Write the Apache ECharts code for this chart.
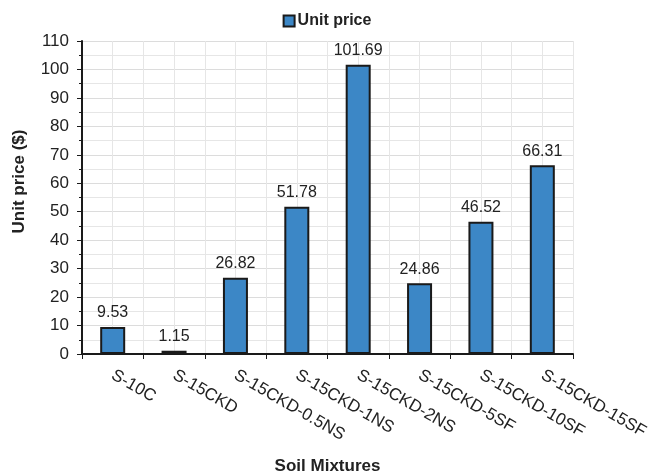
<!DOCTYPE html>
<html>
<head>
<meta charset="utf-8">
<script src="https://cdn.jsdelivr.net/npm/echarts@6/dist/echarts.min.js"></script>
<style>
  html, body { margin: 0; padding: 0; background: #fff; }
  #chart { width: 654px; height: 472px; }
</style>
</head>
<body>
<div id="chart"></div>
<script>
// Soil mixtures and their unit prices
const mixtures = ['S-10C', 'S-15CKD', 'S-15CKD-0.5NS', 'S-15CKD-1NS', 'S-15CKD-2NS', 'S-15CKD-5SF', 'S-15CKD-10SF', 'S-15CKD-15SF'];
const unitPrice = [9.53, 1.15, 26.82, 51.78, 101.69, 24.86, 46.52, 66.31];
const seriesName = 'Unit price';

const FONT = '"Liberation Sans", Arial, sans-serif';
const chart = echarts.init(document.getElementById('chart'), null, { renderer: 'canvas' });

chart.setOption({
  animation: false,
  backgroundColor: '#ffffff',
  textStyle: { fontFamily: FONT },
  legend: {
    top: 8,
    left: 'center',
    icon: 'rect',
    itemWidth: 11,
    itemHeight: 11,
    itemGap: 4,
    itemStyle: { borderColor: '#1a1a1a', borderWidth: 2 },
    data: [seriesName],
    textStyle: { fontFamily: FONT, fontSize: 16, fontWeight: 'bold', color: '#222', padding: [0, 0, 0, -2] }
  },
  grid: { left: 82, right: 81, top: 41, bottom: 118, containLabel: false, outerBoundsMode: 'none' },
  xAxis: [
    {
      type: 'category',
      data: mixtures,
      boundaryGap: true,
      name: 'Soil Mixtures',
      nameLocation: 'middle',
      nameGap: 104,
      nameTextStyle: { fontFamily: FONT, fontSize: 17, fontWeight: 'bold', color: '#222' },
      axisLine: { lineStyle: { color: '#1a1a1a', width: 2 } },
      axisTick: { show: true, alignWithLabel: false, length: 5, lineStyle: { color: '#1a1a1a', width: 1 } },
      axisLabel: { rotate: -30, margin: 20, fontFamily: FONT, fontSize: 17, color: '#222', interval: 0 },
      splitLine: { show: true, lineStyle: { color: '#dcdcdc', width: 1 } }
    },
    {
      // half-category grid lines through each bar centre
      type: 'value',
      position: 'bottom',
      min: 0,
      max: 16,
      interval: 1,
      axisLine: { show: false },
      axisTick: { show: false },
      axisLabel: { show: false },
      splitLine: { show: true, lineStyle: { color: '#e6e6e6', width: 1 } }
    }
  ],
  yAxis: {
    type: 'value',
    min: 0,
    max: 110,
    interval: 10,
    name: 'Unit price ($)',
    nameLocation: 'middle',
    nameGap: 54,
    nameTextStyle: { fontFamily: FONT, fontSize: 17, fontWeight: 'bold', color: '#222', padding: [0, 0, 0, 32] },
    axisLine: { show: true, lineStyle: { color: '#1a1a1a', width: 2 } },
    axisTick: { show: true, length: 5, lineStyle: { color: '#1a1a1a' } },
    minorTick: { show: true, splitNumber: 2, length: 3, lineStyle: { color: '#1a1a1a' } },
    axisLabel: { fontFamily: FONT, fontSize: 17, color: '#222', margin: 13 },
    splitLine: { show: true, lineStyle: { color: '#dcdcdc', width: 1 } },
    minorSplitLine: { show: true, lineStyle: { color: '#e6e6e6', width: 1 } }
  },
  series: [
    {
      name: seriesName,
      type: 'bar',
      xAxisIndex: 0,
      data: unitPrice,
      barWidth: 25,
      itemStyle: { color: '#3c87c6', borderColor: '#1a1a1a', borderWidth: 2 },
      label: {
        show: true,
        position: 'top',
        distance: 6,
        fontFamily: FONT,
        fontSize: 16,
        color: '#222',
        formatter: p => p.value.toFixed(2)
      }
    }
  ]
});
</script>
</body>
</html>
